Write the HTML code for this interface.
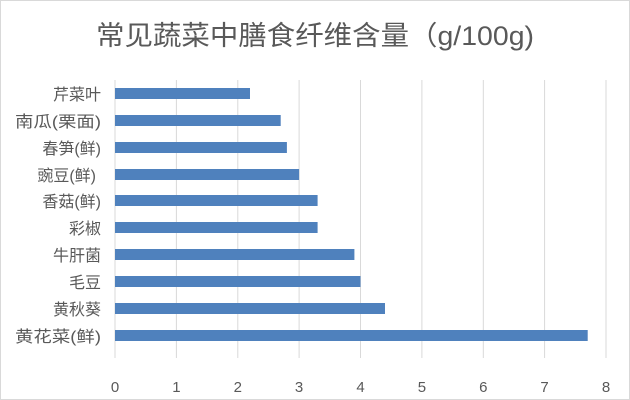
<!DOCTYPE html>
<html><head><meta charset="utf-8"><style>
body{margin:0;background:#fff}
svg{display:block;font-family:"Liberation Sans","Noto Sans CJK SC",sans-serif}
</style></head><body>
<svg width="630" height="400" xmlns="http://www.w3.org/2000/svg">
<rect x="0.5" y="0.5" width="629" height="399" fill="#fff" stroke="#d9d9d9"/>
<text x="315" y="45" text-anchor="middle" font-size="27" fill="#595959" textLength="438" lengthAdjust="spacingAndGlyphs">常见蔬菜中膳食纤维含量（g/100g)</text>
<g stroke="#d9d9d9" stroke-width="1">
<line x1="115" y1="80" x2="115" y2="358"/><line x1="176.4" y1="80" x2="176.4" y2="358"/>
<line x1="237.8" y1="80" x2="237.8" y2="358"/><line x1="299.1" y1="80" x2="299.1" y2="358"/>
<line x1="360.5" y1="80" x2="360.5" y2="358"/><line x1="421.9" y1="80" x2="421.9" y2="358"/>
<line x1="483.3" y1="80" x2="483.3" y2="358"/><line x1="544.6" y1="80" x2="544.6" y2="358"/>
<line x1="606" y1="80" x2="606" y2="358"/>
</g>
<g fill="#4f81bd">
<rect x="115" y="88" width="135" height="11"/>
<rect x="115" y="115" width="165.7" height="11"/>
<rect x="115" y="142" width="171.9" height="11"/>
<rect x="115" y="169" width="184.1" height="11"/>
<rect x="115" y="195" width="202.6" height="11"/>
<rect x="115" y="222" width="202.6" height="11"/>
<rect x="115" y="249" width="239.4" height="11"/>
<rect x="115" y="276" width="245.5" height="11"/>
<rect x="115" y="303" width="270" height="11"/>
<rect x="115" y="330" width="472.7" height="11"/>
</g>
<g font-size="16" fill="#595959" text-anchor="end">
<text x="101" y="100">芹菜叶</text>
<text x="101" y="127" textLength="86" lengthAdjust="spacingAndGlyphs">南瓜(栗面)</text>
<text x="101" y="154">春笋(鲜)</text>
<text x="96" y="181">豌豆(鲜)</text>
<text x="101" y="207">香菇(鲜)</text>
<text x="101" y="234">彩椒</text>
<text x="101" y="261">牛肝菌</text>
<text x="101" y="288">毛豆</text>
<text x="101" y="315">黄秋葵</text>
<text x="101" y="342" textLength="86" lengthAdjust="spacingAndGlyphs">黄花菜(鲜)</text>
</g>
<g font-size="15" fill="#595959" text-anchor="middle">
<text x="115" y="392">0</text><text x="176.4" y="392">1</text><text x="237.8" y="392">2</text>
<text x="299.1" y="392">3</text><text x="360.5" y="392">4</text><text x="421.9" y="392">5</text>
<text x="483.3" y="392">6</text><text x="544.6" y="392">7</text><text x="606" y="392">8</text>
</g>
</svg>
</body></html>
